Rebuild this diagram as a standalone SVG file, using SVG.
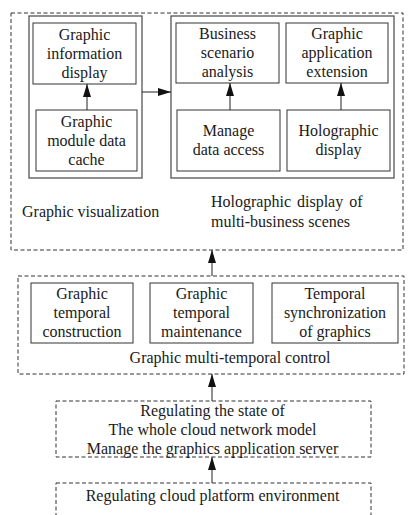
<svg xmlns="http://www.w3.org/2000/svg" width="408" height="515" viewBox="0 0 408 515">
<defs>
<marker id="ah" markerUnits="userSpaceOnUse" markerWidth="13" markerHeight="8" refX="13" refY="4" orient="auto">
<path d="M0,0 L13,4 L0,8 z" fill="#111"/>
</marker>
<style>
.t{font-family:"Liberation Serif","Times New Roman",serif;font-size:16px;fill:#1a1a1a}
.c{text-anchor:middle}
.box{fill:#fff;stroke:#333;stroke-width:1}
.panel{fill:none;stroke:#555;stroke-width:1.3}
.dash{fill:none;stroke:#333;stroke-width:1;stroke-dasharray:4 2.5}
.con{stroke:#222;stroke-width:1;fill:none;marker-end:url(#ah)}
</style>
</defs>
<rect width="408" height="515" fill="#fff"/>

<g id="layer-visualization">
<rect class="dash" x="11" y="13" width="392" height="237"/>
<text class="t" x="22" y="217">Graphic visualization</text>
<text class="t" x="211" y="207" word-spacing="2">Holographic display of</text>
<text class="t" x="211" y="227">multi-business scenes</text>
</g>

<g id="panel-visualization">
<rect class="panel" x="29" y="16" width="113" height="162"/>
</g>
<g id="panel-holographic">
<rect class="panel" x="171" y="16" width="223" height="162"/>
</g>

<g id="n-info-display">
<rect class="box" x="33" y="23" width="103" height="61"/>
<text class="t c"><tspan x="84.5" y="39.5">Graphic</tspan><tspan x="84.5" y="58.5">information</tspan><tspan x="84.5" y="77.5">display</tspan></text>
</g>
<g id="n-module-cache">
<rect class="box" x="36" y="110" width="101" height="61"/>
<text class="t c"><tspan x="86.5" y="126.5">Graphic</tspan><tspan x="86.5" y="145.5">module data</tspan><tspan x="86.5" y="164.5">cache</tspan></text>
</g>
<g id="n-business">
<rect class="box" x="176" y="23" width="103" height="60"/>
<text class="t c"><tspan x="227.5" y="39">Business</tspan><tspan x="227.5" y="58">scenario</tspan><tspan x="227.5" y="77">analysis</tspan></text>
</g>
<g id="n-app-ext">
<rect class="box" x="286" y="23" width="102" height="60"/>
<text class="t c"><tspan x="337" y="39">Graphic</tspan><tspan x="337" y="58">application</tspan><tspan x="337" y="77">extension</tspan></text>
</g>
<g id="n-data-access">
<rect class="box" x="177" y="110" width="103" height="61"/>
<text class="t c"><tspan x="228.5" y="136">Manage</tspan><tspan x="228.5" y="155">data access</tspan></text>
</g>
<g id="n-holo-display">
<rect class="box" x="287" y="110" width="103" height="61"/>
<text class="t c"><tspan x="338.5" y="136">Holographic</tspan><tspan x="338.5" y="155">display</tspan></text>
</g>

<g id="layer-temporal">
<rect class="dash" x="18" y="276" width="386" height="98"/>
<text class="t c" x="230" y="363">Graphic multi-temporal control</text>
</g>
<g id="n-temporal-construction">
<rect class="box" x="31" y="283" width="102" height="60"/>
<text class="t c"><tspan x="82" y="298.5">Graphic</tspan><tspan x="82" y="317.5">temporal</tspan><tspan x="82" y="336.5">construction</tspan></text>
</g>
<g id="n-temporal-maintenance">
<rect class="box" x="150" y="283" width="103" height="60"/>
<text class="t c"><tspan x="201.5" y="298.5">Graphic</tspan><tspan x="201.5" y="317.5">temporal</tspan><tspan x="201.5" y="336.5">maintenance</tspan></text>
</g>
<g id="n-temporal-sync">
<rect class="box" x="272" y="283" width="126" height="60"/>
<text class="t c"><tspan x="335" y="298.5">Temporal</tspan><tspan x="335" y="317.5">synchronization</tspan><tspan x="335" y="336.5">of graphics</tspan></text>
</g>

<g id="n-regulating-state">
<rect class="dash" x="56" y="401" width="315" height="56"/>
<text class="t c"><tspan x="212.5" y="416">Regulating the state of</tspan><tspan x="212.5" y="435">The whole cloud network model</tspan><tspan x="212.5" y="454">Manage the graphics application server</tspan></text>
</g>

<g id="n-cloud-env">
<rect class="dash" x="56" y="483" width="315" height="40"/>
<text class="t c" x="212.5" y="501">Regulating cloud platform environment</text>
</g>

<g id="connectors">
<line class="con" x1="87" y1="110" x2="87" y2="84"/>
<line class="con" x1="142" y1="92" x2="171" y2="92"/>
<line class="con" x1="230" y1="110" x2="230" y2="83"/>
<line class="con" x1="341" y1="110" x2="341" y2="83"/>
<line class="con" x1="212" y1="276" x2="212" y2="250"/>
<line class="con" x1="212" y1="401" x2="212" y2="374"/>
<line class="con" x1="212" y1="483" x2="212" y2="457"/>
</g>
</svg>
